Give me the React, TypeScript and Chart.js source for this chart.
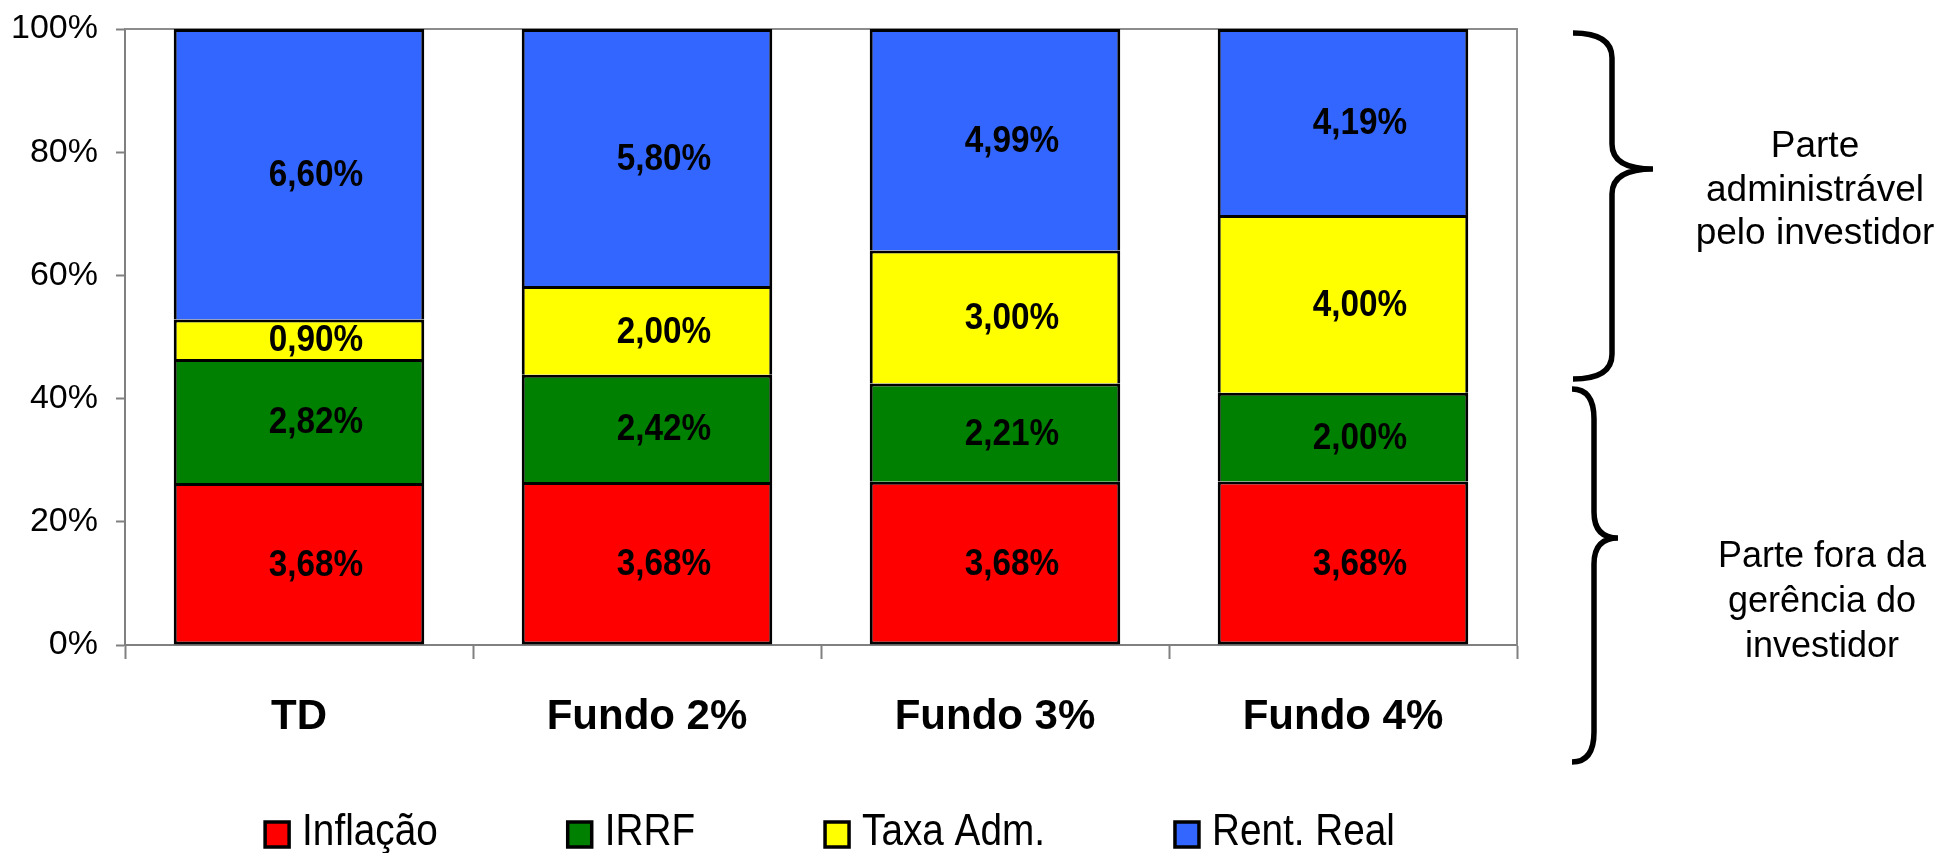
import React, { useEffect, useRef } from 'react';
import { Chart, registerables } from 'chart.js';

Chart.register(...registerables);

const categories = ['TD', 'Fundo 2%', 'Fundo 3%', 'Fundo 4%'];
const seriesNames = ['Inflação', 'IRRF', 'Taxa Adm.', 'Rent. Real'];
const inflacao = [3.68, 3.68, 3.68, 3.68];
const irrf = [2.82, 2.42, 2.21, 2.0];
const taxaAdm = [0.9, 2.0, 3.0, 4.0];
const rentReal = [6.6, 5.8, 4.99, 4.19];
const seriesColors = ['#FF0000', '#008000', '#FFFF00', '#3366FF'];
const yTickValues = [0, 20, 40, 60, 80, 100];
const upperNote = ['Parte', 'administrável', 'pelo investidor'];
const lowerNote = ['Parte fora da', 'gerência do', 'investidor'];

const FONT = "'Liberation Sans', Arial, Helvetica, sans-serif";
const W = 1943;
const H = 853;

const rawSeries = [inflacao, irrf, taxaAdm, rentReal];
const totals = categories.map((_, i) => rawSeries.reduce((s, arr) => s + arr[i], 0));
const fmt = (v: number) => v.toFixed(2).replace('.', ',') + '%';

function drawBrace(
  ctx: CanvasRenderingContext2D,
  xLeft: number, xMid: number, xTip: number,
  yTop: number, yTip: number, yBot: number,
  r: number, r2: number
) {
  ctx.beginPath();
  ctx.moveTo(xLeft, yTop);
  ctx.quadraticCurveTo(xMid, yTop, xMid, yTop + r);
  ctx.lineTo(xMid, yTip - r2);
  ctx.quadraticCurveTo(xMid, yTip, xTip, yTip);
  ctx.moveTo(xTip, yTip);
  ctx.quadraticCurveTo(xMid, yTip, xMid, yTip + r2);
  ctx.lineTo(xMid, yBot - r);
  ctx.quadraticCurveTo(xMid, yBot, xLeft, yBot);
  ctx.stroke();
}

function scaledText(ctx: CanvasRenderingContext2D, text: string, x: number, y: number, sx: number) {
  ctx.save();
  ctx.translate(x, y);
  ctx.scale(sx, 1);
  ctx.fillText(text, 0, 0);
  ctx.restore();
}

const decorPlugin = {
  id: 'decor',
  beforeDatasetsDraw(chart: any) {
    const { ctx, chartArea: a } = chart;
    ctx.save();
    ctx.strokeStyle = '#8c8c8c';
    ctx.lineWidth = 2;
    ctx.beginPath();
    ctx.moveTo(a.left, a.top);
    ctx.lineTo(a.right, a.top);
    ctx.lineTo(a.right, a.bottom);
    ctx.stroke();
    ctx.restore();
  },
  afterDatasetsDraw(chart: any) {
    const { ctx } = chart;
    ctx.save();
    ctx.font = `bold 37px ${FONT}`;
    ctx.textAlign = 'center';
    ctx.textBaseline = 'middle';
    ctx.fillStyle = '#000';
    chart.data.datasets.forEach((_: any, di: number) => {
      const meta = chart.getDatasetMeta(di);
      meta.data.forEach((el: any, i: number) => {
        const { x, y, base } = el.getProps(['x', 'y', 'base'], true);
        scaledText(ctx, fmt(rawSeries[di][i]), x + 17, (y + base) / 2 + 2, 0.9);
      });
    });
    ctx.restore();
  },
  afterDraw(chart: any) {
    const { ctx, chartArea: a } = chart;
    ctx.save();
    // legend
    const sx = 0.88;
    ctx.font = `44px ${FONT}`;
    const boxW = 24, boxH = 25, boxGap = 13, itemGap = 130;
    const items = chart.data.datasets.map((ds: any) => ({
      text: ds.label as string,
      color: ds.backgroundColor as string,
      w: ctx.measureText(ds.label).width * sx,
    }));
    const total = items.reduce((s: number, it: any) => s + boxW + boxGap + it.w, 0) + itemGap * (items.length - 1);
    let x = (a.left + a.right) / 2 + 9 - total / 2;
    const baseY = 845;
    const boxTop = 822;
    ctx.textBaseline = 'alphabetic';
    ctx.textAlign = 'left';
    items.forEach((it: any) => {
      ctx.fillStyle = it.color;
      ctx.fillRect(x, boxTop, boxW, boxH);
      ctx.strokeStyle = '#000';
      ctx.lineWidth = 3.5;
      ctx.strokeRect(x, boxTop, boxW, boxH);
      ctx.fillStyle = '#000';
      scaledText(ctx, it.text, x + boxW + boxGap, baseY, sx);
      x += boxW + boxGap + it.w + itemGap;
    });

    // braces
    ctx.strokeStyle = '#000';
    ctx.lineWidth = 5.5;
    ctx.lineCap = 'butt';
    drawBrace(ctx, 1573, 1612, 1653, 33, 169, 379, 25, 25);
    drawBrace(ctx, 1572, 1594, 1618, 389, 538, 762, 30, 26);

    // notes
    ctx.font = `37px ${FONT}`;
    ctx.textAlign = 'center';
    ctx.textBaseline = 'alphabetic';
    ctx.fillStyle = '#000';
    upperNote.forEach((t, i) => ctx.fillText(t, 1815, 157 + i * 43.5));
    ctx.font = `36px ${FONT}`;
    lowerNote.forEach((t, i) => ctx.fillText(t, 1822, 567 + i * 45));
    ctx.restore();
  },
};

export default function App() {
  const ref = useRef<HTMLCanvasElement | null>(null);

  useEffect(() => {
    if (!ref.current) return;
    Chart.defaults.font.family = FONT;
    Chart.defaults.color = '#000';
    const chart = new Chart(ref.current, {
      type: 'bar',
      data: {
        labels: categories,
        datasets: seriesNames.map((name, di) => ({
          label: name,
          data: rawSeries[di].map((v, i) => (v / totals[i]) * 100),
          backgroundColor: seriesColors[di],
          borderColor: '#000',
          borderWidth: 3,
          borderSkipped: di === 0 ? false : 'start',
          categoryPercentage: 1,
          barPercentage: 0.72,
        })),
      },
      options: {
        responsive: false,
        animation: false,
        devicePixelRatio: 1,
        layout: { padding: { left: 0, top: 29, right: W - 1517, bottom: 88 } },
        plugins: {
          legend: { display: false },
          tooltip: { enabled: false },
        },
        scales: {
          x: {
            stacked: true,
            afterFit: (s: any) => {
              s.height = 120;
              s.paddingLeft = 0;
              s.paddingRight = 0;
            },
            grid: {
              offset: true,
              drawOnChartArea: false,
              drawTicks: true,
              tickLength: 14,
              tickWidth: 2,
              color: '#808080',
            },
            border: { display: true, color: '#808080', width: 2 },
            ticks: {
              font: { size: 42, weight: 'bold', family: FONT },
              color: '#000',
              padding: 33,
              maxRotation: 0,
              autoSkip: false,
            },
          },
          y: {
            stacked: true,
            min: 0,
            max: 100,
            afterFit: (s: any) => {
              s.width = 125;
              s.paddingTop = 0;
              s.paddingBottom = 0;
            },
            afterBuildTicks: (s: any) => { s.ticks = yTickValues.map((v) => ({ value: v })); },
            grid: {
              drawOnChartArea: false,
              drawTicks: true,
              tickLength: 9,
              tickWidth: 2,
              color: '#808080',
            },
            border: { display: true, color: '#808080', width: 2 },
            ticks: {
              font: { size: 34, family: FONT },
              color: '#000',
              padding: 18,
              callback: (v: any) => `${v}%`,
            },
          },
        },
      },
      plugins: [decorPlugin],
    } as any);
    return () => chart.destroy();
  }, []);

  return (
    <div style={{ position: 'absolute', left: 0, top: 0, width: W, height: H, background: '#fff' }}>
      <canvas ref={ref} width={W} height={H} style={{ display: 'block' }} />
    </div>
  );
}
